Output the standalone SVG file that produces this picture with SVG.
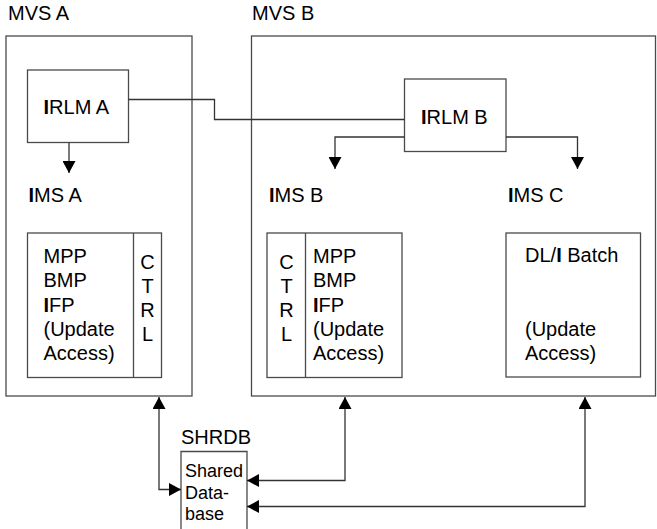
<svg xmlns="http://www.w3.org/2000/svg" width="657" height="529" viewBox="0 0 657 529">
<defs>
<style>
text{font-family:"Liberation Sans",Arial,sans-serif;font-size:20px;fill:#000}
.b{font-weight:bold}
.s{font-size:18px}
.box{fill:none;stroke:#4a4a4a;stroke-width:1.3}
.c{fill:none;stroke:#333;stroke-width:1.3}
.m{text-anchor:middle}
</style>
<marker id="ah" viewBox="0 0 12 13" refX="12" refY="6.5" markerWidth="12" markerHeight="13" markerUnits="userSpaceOnUse" orient="auto-start-reverse">
<path d="M0,0 L12,6.5 L0,13 Z" fill="#000"/>
</marker>
</defs>
<rect width="657" height="529" fill="#fff"/>

<g id="mvsA">
<text x="8" y="20">MVS A</text>
<rect class="box" x="6" y="36" width="186" height="360"/>
</g>
<g id="mvsB">
<text x="252" y="20">MVS B</text>
<rect class="box" x="251.5" y="36" width="404" height="360"/>
</g>

<g id="irlmA">
<rect class="box" x="27.5" y="70" width="101" height="72.5"/>
<text x="43.5" y="114" font-size="20.5"><tspan class="b">I</tspan>RLM A</text>
</g>
<g id="irlmB">
<rect class="box" x="404.5" y="79" width="101.5" height="72.5"/>
<text x="421" y="124" font-size="20.5"><tspan class="b">I</tspan>RLM B</text>
</g>

<g id="imsA">
<text x="28.5" y="202"><tspan class="b">I</tspan>MS A</text>
<rect class="box" x="27.5" y="233" width="134" height="144.5"/>
<line class="box" x1="133.5" y1="233" x2="133.5" y2="377.5"/>
<text x="43.5" y="263">MPP</text>
<text x="43.5" y="287.3">BMP</text>
<text x="43.5" y="311.6"><tspan class="b">I</tspan>FP</text>
<text x="43.5" y="336">(Update</text>
<text x="43.5" y="360.3">Access)</text>
<text class="m" x="147.5" y="269">C</text>
<text class="m" x="147.5" y="293">T</text>
<text class="m" x="147.5" y="317">R</text>
<text class="m" x="147.5" y="341">L</text>
</g>

<g id="imsB">
<text x="269" y="202"><tspan class="b">I</tspan>MS B</text>
<rect class="box" x="267" y="233" width="135" height="144.5"/>
<line class="box" x1="305.5" y1="233" x2="305.5" y2="377.5"/>
<text class="m" x="286.5" y="269">C</text>
<text class="m" x="286.5" y="293">T</text>
<text class="m" x="286.5" y="317">R</text>
<text class="m" x="286.5" y="341">L</text>
<text x="313" y="263">MPP</text>
<text x="313" y="287.3">BMP</text>
<text x="313" y="311.6"><tspan class="b">I</tspan>FP</text>
<text x="313" y="336">(Update</text>
<text x="313" y="360.3">Access)</text>
</g>

<g id="imsC">
<text x="508" y="202"><tspan class="b">I</tspan>MS C</text>
<rect class="box" x="506" y="233" width="134.5" height="144"/>
<text x="525" y="262">DL/<tspan class="b">I</tspan> Batch</text>
<text x="525" y="336">(Update</text>
<text x="525" y="360">Access)</text>
</g>

<g id="shrdb">
<text x="181" y="443.5">SHRDB</text>
<path class="box" d="M181,529 V451.5 H247 V529"/>
<text class="s" x="185" y="477">Shared</text>
<text class="s" x="185" y="498.5">Data-</text>
<text class="s" x="185" y="520">base</text>
</g>

<g id="connectors">
<path class="c" d="M69,142.5 V173" marker-end="url(#ah)"/>
<path class="c" d="M128.5,99.5 H214.5 V119.5 H404.5"/>
<path class="c" d="M404.5,137 H335 V169" marker-end="url(#ah)"/>
<path class="c" d="M506,137 H577.5 V169" marker-end="url(#ah)"/>
<path class="c" d="M181,489.5 H159 V397" marker-start="url(#ah)" marker-end="url(#ah)"/>
<path class="c" d="M247,480.5 H345 V397" marker-start="url(#ah)" marker-end="url(#ah)"/>
<path class="c" d="M247,506.5 H585 V397" marker-start="url(#ah)" marker-end="url(#ah)"/>
</g>
</svg>
